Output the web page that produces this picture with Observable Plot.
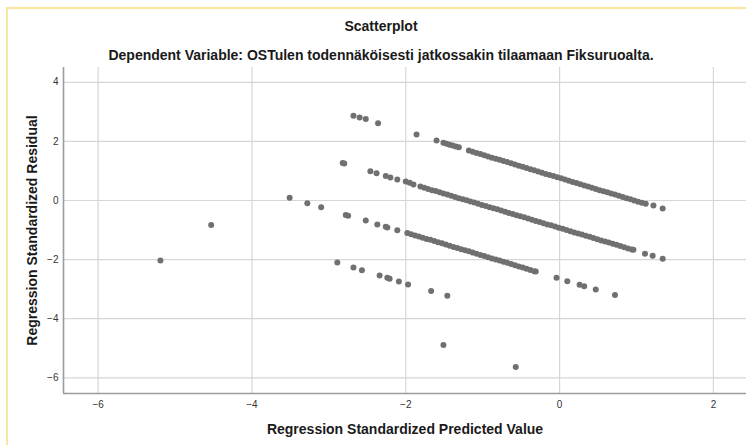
<!DOCTYPE html>
<html>
<head>
<meta charset="utf-8">
<script src="https://cdn.jsdelivr.net/npm/d3@7"></script>
<script src="https://cdn.jsdelivr.net/npm/@observablehq/plot@0.6"></script>
<style>
  html, body { margin: 0; padding: 0; background: #ffffff; }
  #wrap { position: relative; width: 746px; height: 445px; overflow: hidden; background: #ffffff; font-family: "Liberation Sans", Arial, sans-serif; }
  #border { position: absolute; left: 6px; top: 7px; width: 760px; height: 460px; border-top: 2px solid #fbe6a0; border-left: 2px solid #fbe6a0; box-sizing: border-box; z-index: 3; }
  .ttl { position: absolute; left: 0; width: 762px; text-align: center; font-weight: bold; color: #1a1a1a; white-space: nowrap; z-index: 2; }
  #title { top: 18px; font-size: 14px; line-height: 16px; }
  #subtitle { top: 47px; font-size: 14px; line-height: 16px; }
  #chart { position: absolute; left: 0; top: 60px; z-index: 1; }
</style>
</head>
<body>
<div id="wrap">
  <div id="border"></div>
  <div id="title" class="ttl"></div>
  <div id="subtitle" class="ttl"></div>
  <div id="chart"></div>
</div>
<script>
// ---- texts ----
const titleText = "Scatterplot";
const subtitleText = "Dependent Variable: OSTulen todennäköisesti jatkossakin tilaamaan Fiksuruoalta.";
const xLabel = "Regression Standardized Predicted Value";
const yLabel = "Regression Standardized Residual";
const xTicks = [-6, -4, -2, 0, 2];
const yTicks = [-6, -4, -2, 0, 2, 4];

// ---- data (predicted value, residual) ----
// band 1 (top)
const band1X = [-2.68, -2.60, -2.52, -2.36, -1.86, -1.60,
  -1.51, -1.47, -1.43, -1.39, -1.35, -1.31,
  -1.18, -1.13, -1.08, -1.03, -0.98, -0.93, -0.88, -0.83, -0.78, -0.73, -0.68, -0.63, -0.58, -0.53, -0.48, -0.43,
  -0.38, -0.33, -0.28, -0.23, -0.18, -0.13, -0.08, -0.03, 0.02, 0.07, 0.12, 0.17, 0.22, 0.27, 0.32, 0.37, 0.42,
  0.47, 0.52, 0.57, 0.62, 0.67, 0.72, 0.77, 0.82, 0.87, 0.92, 0.97, 1.02, 1.07, 1.12,
  1.22, 1.34];
const band1Y = [2.87, 2.81, 2.76, 2.61, 2.23, 2.03,
  1.95, 1.92, 1.89, 1.86, 1.83, 1.80,
  1.69, 1.65, 1.61, 1.57, 1.53, 1.49, 1.45, 1.41, 1.38, 1.34, 1.30, 1.26, 1.22, 1.18, 1.14, 1.10,
  1.06, 1.02, 0.98, 0.94, 0.90, 0.86, 0.83, 0.79, 0.75, 0.71, 0.67, 0.63, 0.59, 0.55, 0.51, 0.47, 0.43,
  0.39, 0.35, 0.31, 0.28, 0.24, 0.20, 0.16, 0.12, 0.08, 0.04, 0.00, -0.04, -0.08, -0.11,
  -0.17, -0.27];
// band 2
const band2X = [-2.82, -2.80, -2.46, -2.38, -2.26, -2.20, -2.11, -2.00, -1.95, -1.90,
  -1.81, -1.76, -1.71, -1.66, -1.61, -1.56, -1.51, -1.46, -1.41, -1.36, -1.31, -1.26, -1.21, -1.16, -1.11,
  -1.06, -1.01, -0.96, -0.91, -0.86, -0.81, -0.76, -0.71, -0.66, -0.61, -0.56, -0.51, -0.46, -0.41, -0.36,
  -0.31, -0.26, -0.21, -0.16, -0.11, -0.06, -0.01, 0.04, 0.09, 0.14, 0.19, 0.24, 0.29, 0.34, 0.39, 0.44,
  0.49, 0.54, 0.59, 0.64, 0.69, 0.74, 0.79, 0.84, 0.89, 0.94, 0.96,
  1.11, 1.21, 1.34];
const band2Y = [1.27, 1.25, 0.99, 0.92, 0.83, 0.78, 0.71, 0.64, 0.60, 0.54,
  0.47, 0.43, 0.39, 0.35, 0.32, 0.28, 0.24, 0.20, 0.16, 0.12, 0.08, 0.04, 0.01, -0.03, -0.07,
  -0.11, -0.15, -0.19, -0.23, -0.26, -0.30, -0.34, -0.38, -0.42, -0.46, -0.50, -0.53, -0.57, -0.61, -0.65,
  -0.69, -0.73, -0.77, -0.81, -0.84, -0.88, -0.92, -0.96, -1.00, -1.04, -1.08, -1.12, -1.15, -1.19, -1.23, -1.27,
  -1.31, -1.35, -1.39, -1.42, -1.46, -1.50, -1.54, -1.58, -1.62, -1.66, -1.67,
  -1.80, -1.87, -1.97];
// band 3
const band3X = [-4.53, -3.51, -3.28, -3.10, -2.78, -2.75, -2.52, -2.37, -2.26, -2.24, -2.11,
  -1.98, -1.93, -1.88, -1.83, -1.78, -1.73, -1.68, -1.63, -1.58, -1.53, -1.48, -1.43, -1.38, -1.33, -1.28,
  -1.23, -1.18, -1.13, -1.08, -1.03, -0.98, -0.93, -0.88, -0.83, -0.78, -0.73, -0.68, -0.63, -0.58, -0.53,
  -0.48, -0.43, -0.38, -0.33, -0.31,
  -0.04, 0.10, 0.26, 0.32, 0.47, 0.72];
const band3Y = [-0.83, 0.09, -0.09, -0.23, -0.49, -0.52, -0.68, -0.81, -0.89, -0.91, -1.01,
  -1.10, -1.14, -1.18, -1.22, -1.26, -1.30, -1.33, -1.37, -1.41, -1.45, -1.49, -1.53, -1.57, -1.61, -1.65,
  -1.68, -1.72, -1.76, -1.80, -1.84, -1.88, -1.92, -1.96, -2.00, -2.03, -2.07, -2.11, -2.15, -2.19, -2.23,
  -2.27, -2.31, -2.35, -2.39, -2.40,
  -2.61, -2.73, -2.85, -2.90, -3.01, -3.20];
// band 4
const band4X = [-5.19, -2.89, -2.68, -2.57, -2.34, -2.24, -2.21, -2.09, -1.97, -1.67, -1.46];
const band4Y = [-2.03, -2.10, -2.27, -2.36, -2.54, -2.61, -2.65, -2.74, -2.84, -3.06, -3.22];
// band 5 (bottom)
const band5X = [-1.51, -0.57];
const band5Y = [-4.89, -5.63];

const xDomain = [-6.45, 2.43];
const yDomain = [-6.53, 4.5];

const points = [];
[[band1X, band1Y], [band2X, band2Y], [band3X, band3Y], [band4X, band4Y], [band5X, band5Y]].forEach(([xs, ys]) => {
  xs.forEach((x, i) => points.push({x, y: ys[i]}));
});

document.getElementById("title").textContent = titleText;
document.getElementById("subtitle").textContent = subtitleText;

const chart = Plot.plot({
  width: 746,
  height: 385,
  marginTop: 7,
  marginBottom: 52,
  marginLeft: 63,
  marginRight: 0,
  x: {domain: xDomain},
  y: {domain: yDomain},
  style: {fontFamily: "'Liberation Sans', Arial, sans-serif", fontSize: "10px", color: "#333", background: "transparent", overflow: "visible"},
  marks: [
    Plot.gridX(xTicks, {stroke: "#d6d6d6", strokeOpacity: 1, strokeWidth: 1.2}),
    Plot.gridY(yTicks, {stroke: "#d6d6d6", strokeOpacity: 1, strokeWidth: 1.2}),
    Plot.ruleX([xDomain[0]], {stroke: "#9c9c9c", strokeWidth: 1.6}),
    Plot.ruleY([yDomain[0]], {stroke: "#9c9c9c", strokeWidth: 1.6}),
    Plot.axisX(xTicks, {tickSize: 0, tickPadding: 7, label: null, fill: "#333"}),
    Plot.axisY(yTicks, {tickSize: 0, tickPadding: 5, label: null, fill: "#333"}),
    Plot.dot(points, {x: "x", y: "y", r: 3, fill: "#707070", stroke: null}),
    Plot.text([xLabel], {frameAnchor: "bottom", dy: 36, lineAnchor: "middle", textAnchor: "middle", fontSize: 14, fontWeight: "bold", fill: "#1a1a1a"}),
    Plot.text([yLabel], {frameAnchor: "left", rotate: -90, dx: -31, textAnchor: "middle", lineAnchor: "middle", fontSize: 14, fontWeight: "bold", fill: "#1a1a1a"})
  ]
});
document.getElementById("chart").appendChild(chart);
</script>
</body>
</html>
